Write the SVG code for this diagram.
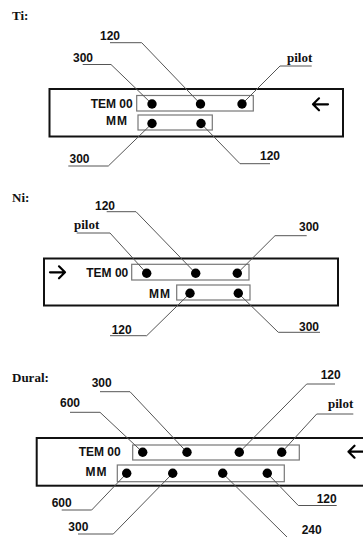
<svg xmlns="http://www.w3.org/2000/svg" width="363" height="537" viewBox="0 0 363 537">
<defs>
<style>
.panel{fill:#fff;stroke:#111;stroke-width:2}
.box{fill:#fff;stroke:#777;stroke-width:1.2}
.dot{fill:#000}
.lead{fill:none;stroke:#555;stroke-width:1}
.arr{fill:none;stroke:#000;stroke-width:2.2;stroke-linecap:round;stroke-linejoin:round}
.num{font-family:"Liberation Sans",Arial,sans-serif;font-weight:bold;font-size:12px;fill:#111}
.lab{font-family:"Liberation Sans",Arial,sans-serif;font-weight:bold;font-size:12px;fill:#111;text-anchor:end}
.ser{font-family:"Liberation Serif","Times New Roman",serif;font-weight:bold;font-size:13px;fill:#111}
</style>
</defs>
<rect width="363" height="537" fill="#fff"/>

<!-- Ti panel -->
<g id="ti-panel">
<text class="ser" x="12" y="20">Ti:</text>
<rect class="panel" x="49.5" y="89" width="293.5" height="47.5"/>
<path class="arr" d="M313,104.3 H328 M319,98.3 L313,104.3 L319,110.3"/>
</g>
<g id="ti-tem">
<rect class="box" x="136.7" y="95.5" width="116.6" height="15.5"/>
<text class="lab" x="132.7" y="108">TEM 00</text>
</g>
<g id="ti-mm">
<rect class="box" x="138" y="115" width="74.3" height="15"/>
<text class="lab" x="128" y="125.3" letter-spacing="1">MM</text>
</g>

<!-- Ni panel -->
<g id="ni-panel">
<text class="ser" x="12" y="202">Ni:</text>
<rect class="panel" x="44" y="258.5" width="294" height="47"/>
<path class="arr" d="M50,272.3 H65 M59,266.3 L65,272.3 L59,278.3"/>
</g>
<g id="ni-tem">
<rect class="box" x="131.7" y="264.3" width="117.3" height="15.7"/>
<text class="lab" x="128.3" y="276.7">TEM 00</text>
</g>
<g id="ni-mm">
<rect class="box" x="176.7" y="285" width="73.3" height="15"/>
<text class="lab" x="171" y="297.5" letter-spacing="1">MM</text>
</g>

<!-- Dural panel -->
<g id="dural-panel">
<text class="ser" x="12" y="382">Dural:</text>
<rect class="panel" x="36.7" y="438" width="340" height="47.7"/>
<path class="arr" d="M348.5,451.7 H363 M354.5,445.7 L348.5,451.7 L354.5,457.7"/>
</g>
<g id="dural-tem">
<rect class="box" x="132.7" y="445" width="166.6" height="15"/>
<text class="lab" x="120.7" y="456">TEM 00</text>
</g>
<g id="dural-mm">
<rect class="box" x="117.3" y="465" width="167" height="16.7"/>
<text class="lab" x="107.5" y="476" letter-spacing="1">MM</text>
</g>

<!-- connectors -->
<g id="connectors">
<path class="lead" d="M82.7,64.5 H111 L152,104"/>
<path class="lead" d="M110,42.7 H141.7 L200.5,104"/>
<path class="lead" d="M311.7,66 H280 L242,104"/>
<path class="lead" d="M68.3,166 H108.3 L152,123.5"/>
<path class="lead" d="M270,163.7 H240 L201,123.5"/>

<path class="lead" d="M106.7,211.7 H136 L195.7,273.3"/>
<path class="lead" d="M76.7,233 H110 L146.7,273.3"/>
<path class="lead" d="M306.7,235.7 H275 L237.3,273.3"/>
<path class="lead" d="M110,335.7 H146.7 L190,293.3"/>
<path class="lead" d="M320,332.3 H278.3 L238.3,293.3"/>

<path class="lead" d="M100,391.7 H130 L187,452.3"/>
<path class="lead" d="M70,412.3 H100 L142.7,452.3"/>
<path class="lead" d="M335,384 H306.7 L239.3,452.3"/>
<path class="lead" d="M353.3,414 H316.7 L281.7,452.3"/>
<path class="lead" d="M61.7,510 H91.7 L126.7,473.3"/>
<path class="lead" d="M78,534 H113.3 L172.7,473.3"/>
<path class="lead" d="M336.7,505.5 H298.3 L267.3,473.3"/>
<path class="lead" d="M222.7,473.3 L288,538"/>
</g>

<!-- dots -->
<g id="ti-dots">
<circle class="dot" cx="152" cy="104" r="4.7"/>
<circle class="dot" cx="200.5" cy="104" r="4.7"/>
<circle class="dot" cx="242" cy="104" r="4.7"/>
<circle class="dot" cx="152" cy="123.5" r="4.7"/>
<circle class="dot" cx="201" cy="123.5" r="4.7"/>
</g>
<g id="ni-dots">
<circle class="dot" cx="146.7" cy="273.3" r="4.7"/>
<circle class="dot" cx="195.7" cy="273.3" r="4.7"/>
<circle class="dot" cx="237.3" cy="273.3" r="4.7"/>
<circle class="dot" cx="190" cy="293.3" r="4.7"/>
<circle class="dot" cx="238.3" cy="293.3" r="4.7"/>
</g>
<g id="dural-dots">
<circle class="dot" cx="142.7" cy="452.3" r="4.7"/>
<circle class="dot" cx="187" cy="452.3" r="4.7"/>
<circle class="dot" cx="239.3" cy="452.3" r="4.7"/>
<circle class="dot" cx="281.7" cy="452.3" r="4.7"/>
<circle class="dot" cx="126.7" cy="473.3" r="4.7"/>
<circle class="dot" cx="172.7" cy="473.3" r="4.7"/>
<circle class="dot" cx="222.7" cy="473.3" r="4.7"/>
<circle class="dot" cx="267.3" cy="473.3" r="4.7"/>
</g>

<!-- labels -->
<g id="ti-labels">
<text class="num" x="73" y="62">300</text>
<text class="num" x="100" y="40">120</text>
<text class="ser" x="287" y="62">pilot</text>
<text class="num" x="69.5" y="163">300</text>
<text class="num" x="260" y="159.5">120</text>
</g>
<g id="ni-labels">
<text class="num" x="95" y="209.5">120</text>
<text class="ser" x="74" y="229">pilot</text>
<text class="num" x="299" y="231">300</text>
<text class="num" x="111.7" y="333.5">120</text>
<text class="num" x="299" y="331">300</text>
</g>
<g id="dural-labels">
<text class="num" x="91.7" y="387">300</text>
<text class="num" x="60" y="407">600</text>
<text class="num" x="320.7" y="378.5">120</text>
<text class="ser" x="328" y="408">pilot</text>
<text class="num" x="51.7" y="507">600</text>
<text class="num" x="68.3" y="531">300</text>
<text class="num" x="316.7" y="503">120</text>
<text class="num" x="301.7" y="534">240</text>
</g>
</svg>
